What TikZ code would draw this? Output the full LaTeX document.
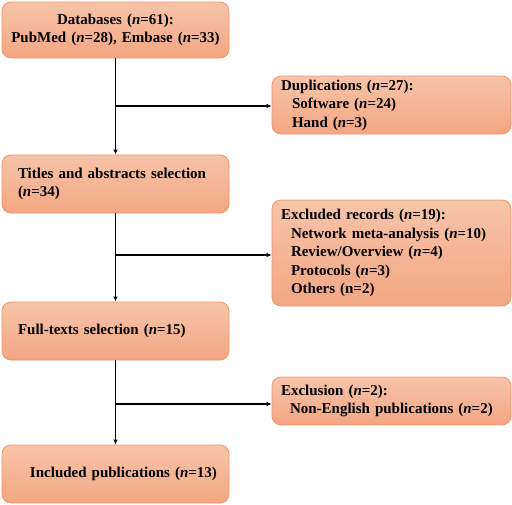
\documentclass[tikz,border=0pt]{standalone}
\usepackage{fontspec}
\setmainfont{Liberation Serif}
\usetikzlibrary{arrows.meta}
\definecolor{boxtop}{RGB}{247,196,170}
\definecolor{boxbot}{RGB}{243,166,130}
\definecolor{boxline}{RGB}{240,150,104}
\begin{document}
\begin{tikzpicture}[x=1pt,y=-1pt,
  box/.style={draw=boxline, line width=0.8pt, rounded corners=9pt,
    top color=boxtop, bottom color=boxbot, font=\fontsize{15}{18.5}\selectfont\bfseries,
    inner ysep=0pt},
  lbox/.style={box, minimum width=227pt, text width=227pt, inner xsep=0pt},
  rbox/.style={box, minimum width=239pt, text width=221pt, inner xsep=9pt, align=left},
  arr/.style={line width=1.1pt, -{Latex[length=5pt,width=4.5pt]}},
  ln/.style={line width=1.1pt}]
\useasboundingbox (0,0) rectangle (512,504);
\node[lbox, minimum height=56pt, align=center] (db) at (115.5,30)
  {Databases (\textit{n}=61):\\PubMed (\textit{n}=28), Embase (\textit{n}=33)};
\node[rbox, minimum height=58pt] (dup) at (391.5,105)
  {Duplications (\textit{n}=27):\\\hspace*{11pt}Software (\textit{n}=24)\\\hspace*{11pt}Hand (\textit{n}=3)};
\node[lbox, minimum height=58pt, align=left] (ti) at (115.5,184)
  {\hspace*{16pt}Titles and abstracts selection\\\hspace*{16pt}(\textit{n}=34)};
\node[rbox, minimum height=106pt] (ex) at (391.5,253)
  {Excluded records (\textit{n}=19):\\\hspace*{10pt}Network meta-analysis (\textit{n}=10)\\\hspace*{10pt}Review/Overview (\textit{n}=4)\\\hspace*{10pt}Protocols (\textit{n}=3)\\\hspace*{10pt}Others (n=2)};
\node[lbox, minimum height=58pt, align=left] (ft) at (115.5,331)
  {\hspace*{16pt}Full-texts selection (\textit{n}=15)};
\node[rbox, minimum height=48pt] (exc) at (391.5,401)
  {Exclusion (\textit{n}=2):\\\hspace*{9pt}Non-English publications (\textit{n}=2)};
\node[lbox, minimum height=58pt, align=left] (inc) at (115.5,474)
  {\hspace*{28pt}Included publications (\textit{n}=13)};
\coordinate (b1) at (115.5,106);
\coordinate (b2) at (115.5,255);
\coordinate (b3) at (115.5,404);
\draw[arr] (db.south) -- (ti.north);
\draw[arr] (ti.south) -- (ft.north);
\draw[arr] (ft.south) -- (inc.north);
\draw[arr] (b1) -- (b1 -| dup.west);
\draw[arr] (b2) -- (b2 -| ex.west);
\draw[arr] (b3) -- (b3 -| exc.west);
\end{tikzpicture}
\end{document}
